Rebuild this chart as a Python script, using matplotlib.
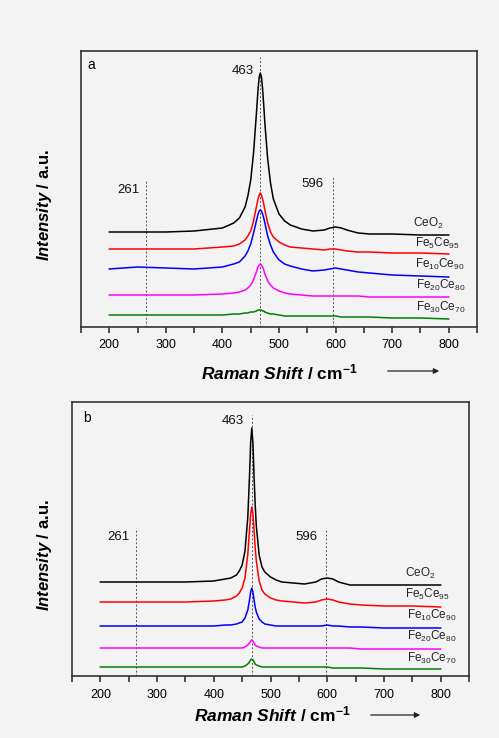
import matplotlib
matplotlib.use('Agg')
from matplotlib import pyplot as plt
from matplotlib.ticker import MultipleLocator

plt.rcParams['font.family'] = ['Liberation Sans', 'DejaVu Sans']
plt.rcParams['mathtext.fontset'] = 'custom'
plt.rcParams['mathtext.rm'] = 'Liberation Sans'
plt.rcParams['mathtext.it'] = 'Liberation Sans:italic'
plt.rcParams['mathtext.bf'] = 'Liberation Sans:bold'
plt.rcParams['mathtext.bfit'] = 'Liberation Sans:italic:bold'
plt.rcParams['mathtext.default'] = 'regular'

shift = [200, 250, 300, 350, 400, 420, 430, 440, 445, 450, 455, 460, 463, 465, 467,
         469, 471, 473, 475, 480, 485, 490, 500, 510, 520, 540, 560, 580, 590, 600,
         610, 620, 640, 660, 700, 750, 800]

samples = ['CeO$_2$', 'Fe$_5$Ce$_{95}$', 'Fe$_{10}$Ce$_{90}$', 'Fe$_{20}$Ce$_{80}$', 'Fe$_{30}$Ce$_{70}$']
colors = ['black', '#ff0000', '#0000ff', '#ff00ff', '#008000']
bands = [261, 463, 596]
band_pos_a = [265, 467, 596]
band_pos_b = [262, 467, 597]

# panel a (stacked, a.u.)
a_ceo2 = [95, 95, 95, 96, 99, 104, 109, 120, 131, 147, 174, 213, 238, 250, 254,
          250, 238, 222, 204, 168, 144, 128, 113, 106, 102, 98, 96, 97, 99, 100,
          99, 97, 94, 93, 93, 92, 92]
a_fe5 = [78, 78, 78, 78, 80, 81, 83, 87, 91, 96, 106, 120, 128, 132, 134,
         132, 128, 123, 117, 104, 95, 90, 85, 82, 80, 79, 78, 77, 78, 78,
         77, 76, 75, 75, 74, 74, 73]
a_fe10 = [58, 60, 59, 58, 60, 63, 65, 71, 76, 83, 94, 106, 113, 116, 117,
          116, 113, 109, 104, 91, 82, 75, 67, 63, 61, 58, 56, 57, 58, 59,
          58, 57, 55, 54, 52, 51, 50]
a_fe20 = [32, 32, 32, 32, 33, 34, 35, 37, 39, 42, 47, 55, 60, 62, 63,
          62, 60, 57, 53, 46, 42, 39, 36, 34, 33, 32, 31, 31, 31, 31,
          31, 31, 31, 30, 30, 30, 30]
a_fe30 = [12, 12, 12, 12, 12, 13, 13, 14, 14, 15, 15, 16, 17, 17, 17,
          17, 16, 16, 15, 14, 13, 13, 12, 11, 11, 11, 11, 11, 11, 11,
          10, 10, 10, 10, 9, 9, 8]

# panel b (stacked, a.u.)
b_ceo2 = [94, 94, 94, 94, 95, 97, 98, 101, 105, 111, 125, 159, 200, 233, 248,
          233, 200, 171, 150, 121, 109, 104, 99, 96, 94, 93, 92, 94, 97, 98,
          97, 94, 91, 91, 91, 91, 91]
b_fe5 = [74, 74, 74, 74, 75, 76, 77, 80, 83, 88, 98, 122, 146, 162, 169,
         162, 146, 128, 115, 95, 86, 82, 78, 76, 75, 74, 73, 74, 76, 77,
         76, 74, 72, 71, 70, 70, 69]
b_fe10 = [50, 50, 50, 50, 50, 51, 51, 52, 53, 54, 58, 66, 76, 84, 88,
          84, 76, 69, 64, 57, 54, 52, 51, 50, 50, 50, 50, 50, 50, 51,
          50, 50, 49, 49, 48, 48, 48]
b_fe20 = [28, 28, 28, 28, 28, 28, 28, 28, 28, 28, 29, 31, 33, 35, 36,
          35, 33, 31, 30, 29, 28, 28, 28, 28, 28, 28, 28, 28, 28, 28,
          28, 28, 28, 27, 27, 27, 27]
b_fe30 = [9, 9, 9, 9, 9, 9, 9, 9, 9, 9, 10, 12, 14, 16, 17,
          16, 14, 12, 11, 10, 9, 9, 9, 9, 9, 9, 9, 9, 9, 9,
          8, 8, 8, 8, 7, 7, 7]

W, H = 499, 738
bg = '#f3f3f3'
fig = plt.figure(figsize=(W / 100, H / 100), dpi=100, facecolor=bg)


def rect(l, t, r, b):
    return [l / W, 1 - b / H, (r - l) / W, (b - t) / H]


def panel(box, series, band_pos, band_tops, band_txt, letter, label_pos, ylab_y, xlab_y, arrow):
    ax = fig.add_axes(box, facecolor=bg)
    for vals, c in zip(series, colors):
        ax.plot(shift, vals, color=c, lw=1.1)
    ax.set_xlim(150, 850)
    ax.set_ylim(0, box[3] * H)
    for x, top in zip(band_pos, band_tops):
        ax.axvline(x, ymax=top, color='#555555', lw=0.7, ls=(0, (2, 2)), zorder=0)
    for name, (tx, ty) in zip([str(b) for b in bands], band_txt):
        ax.text(tx, ty, name, fontsize=9.5, ha='center', va='center', color='#111111')
    ax.text(letter[1], letter[2], letter[0], fontsize=10, ha='center', va='center')
    for name, c, (tx, ty) in zip(samples, colors, label_pos):
        ax.text(tx, ty, name, fontsize=8.5, ha='left', va='baseline', color='#222222')
    ax.set_xticks(range(150, 851, 100), minor=True)
    ax.set_xticks(range(200, 801, 100))
    ax.tick_params(axis='x', which='both', direction='out', length=4, width=1.1,
                   labelsize=9, pad=5, color='#222222')
    ax.set_yticks([])
    for s in ax.spines.values():
        s.set_color('#333333')
        s.set_linewidth(1.2)
    fig.text(45 / W, 1 - ylab_y / H, r'$\mathbfit{Intensity}$ / a.u.', rotation=90,
             ha='center', va='center', fontsize=12, fontweight='bold')
    fig.text(xlab_y[0] / W, 1 - xlab_y[1] / H, r'$\mathbfit{Raman\ Shift}$ / cm$^{\mathbf{-1}}$',
             ha='center', va='center', fontsize=12.5, fontweight='bold')
    ax.annotate('', xy=(arrow[1] / W, 1 - arrow[2] / H), xytext=(arrow[0] / W, 1 - arrow[2] / H),
                xycoords='figure fraction', textcoords='figure fraction',
                arrowprops=dict(arrowstyle='-|>', lw=0.9, color='#222222', mutation_scale=8))
    return ax


panel(rect(81, 51, 477, 327), [a_ceo2, a_fe5, a_fe10, a_fe20, a_fe30], band_pos_a,
      [0.533, 0.978, 0.543], [(233, 137), (436, 256), (560, 143)], ('a', 168, 262),
      [(736, 100), (740, 80), (741, 59), (743, 38), (743, 16)], 205, (279, 372), (385, 442, 371))

panel(rect(72, 402, 469, 676), [b_ceo2, b_fe5, b_fe10, b_fe20, b_fe30], band_pos_b,
      [0.54, 0.953, 0.54], [(232, 139), (433, 255), (564, 139)], ('b', 176, 258),
      [(737, 99), (738, 78), (740, 57), (740, 36), (740, 14)], 555, (272, 714), (368, 423, 715))

plt.savefig('out.png', dpi=100, facecolor=bg)
